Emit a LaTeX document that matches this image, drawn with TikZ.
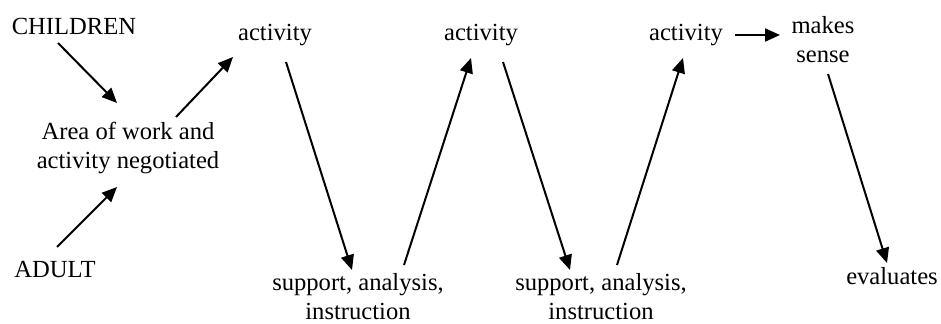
\documentclass[tikz,border=0pt]{standalone}
\usepackage{fontspec}
\setmainfont{Liberation Serif}
\usepackage{tikz}
\usetikzlibrary{arrows.meta}

\begin{document}
\begin{tikzpicture}
	[x=0.5pt, y=-0.5pt, inner sep=0pt, font=\fontsize{12.3}{14.5}\selectfont,
	 arr/.style={-{Triangle[length=7.5pt,width=6.5pt]}, line width=1pt},
	 lbl/.style={align=center}]
   \useasboundingbox (0,0) rectangle (941,324);
   % who starts it
   \node (children) at (74,26) {CHILDREN};
   \node (adult) at (55,270) {ADULT};
   \node[lbl] (area) at (128,148) {Area of work and\\activity negotiated};
   % the zigzag
   \node (act_1) at (275,35) {activity};
   \node (act_2) at (481,35) {activity};
   \node (act_3) at (686,35) {activity};
   \node[lbl] (sup_1) at (358,297) {support, analysis,\\instruction};
   \node[lbl] (sup_2) at (601,297) {support, analysis,\\instruction};
   \node[lbl] (makes) at (823,40) {makes\\sense};
   \node (eval) at (892,276) {evaluates};
    \draw[arr] ([shift={(-16,17)}]children.center) -- ([shift={(-11,-45)}]area.center);
    \draw[arr] ([shift={(2,-23)}]adult.center) -- ([shift={(-11,39)}]area.center);
    \draw[arr] ([shift={(48,-31)}]area.center) -- ([shift={(-42,22)}]act_1.center);
    \draw[arr] ([shift={(11,27)}]act_1.center) -- ([shift={(-6,-27)}]sup_1.center);
    \draw[arr] ([shift={(46,-32)}]sup_1.center) -- ([shift={(-10,23)}]act_2.center);
    \draw[arr] ([shift={(22,27)}]act_2.center) -- ([shift={(-31,-27)}]sup_2.center);
    \draw[arr] ([shift={(16,-32)}]sup_2.center) -- ([shift={(-3,23)}]act_3.center);
    \draw[arr] ([shift={(49,0)}]act_3.center) -- ([shift={(-43,-5)}]makes.center);
    \draw[arr] ([shift={(5,34)}]makes.center) -- ([shift={(-5,-13)}]eval.center);
\end{tikzpicture}
\end{document}
